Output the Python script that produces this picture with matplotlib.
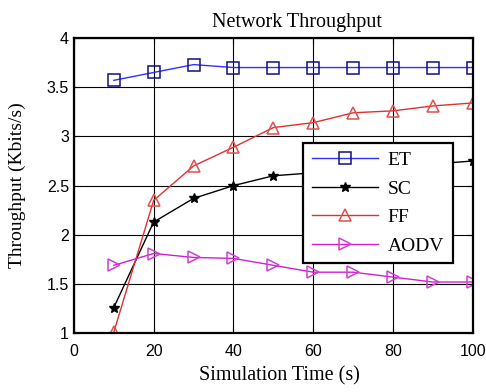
import matplotlib
matplotlib.use('Agg')
import matplotlib.pyplot as plt
import numpy as np

time_s = [10, 20, 30, 40, 50, 60, 70, 80, 90, 100]
et = [3.57, 3.65, 3.73, 3.70, 3.70, 3.70, 3.70, 3.70, 3.70, 3.70]
sc = [1.26, 2.13, 2.37, 2.50, 2.60, 2.63, 2.67, 2.70, 2.72, 2.75]
ff = [1.01, 2.35, 2.70, 2.89, 3.09, 3.14, 3.24, 3.26, 3.31, 3.34]
aodv = [1.69, 1.81, 1.77, 1.76, 1.69, 1.62, 1.62, 1.57, 1.52, 1.52]

fig = plt.figure(figsize=(4.86, 3.92), dpi=100)
ax = fig.add_axes([0.152, 0.150, 0.821, 0.753])

ax.plot(time_s, et, color='#3030ff', lw=1, marker='s', ms=8, mfc='none', mec='#101080', mew=1.1, label='ET')
ax.plot(time_s, sc, color='black', lw=1, marker='*', ms=7, mfc='black', mec='black', label='SC')
ax.plot(time_s, ff, color='#e03030', lw=1, marker='^', ms=9, mfc='none', mec='#e05050', mew=1.1, label='FF')
ax.plot(time_s, aodv, color='#d020d0', lw=1, marker='>', ms=9, mfc='none', mec='#d040d0', mew=1.1, label='AODV')

ax.set_xlim(0, 100)
ax.set_ylim(1, 4)
ax.set_xticks([0, 20, 40, 60, 80, 100])
ax.set_yticks([1, 1.5, 2, 2.5, 3, 3.5, 4])
ax.set_yticklabels(['1', '1.5', '2', '2.5', '3', '3.5', '4'])
ax.grid(True, color='black', lw=0.8)
ax.tick_params(direction='in', top=True, right=True, length=4)
ax.tick_params(axis='x', pad=8)
for lab in ax.get_xticklabels() + ax.get_yticklabels():
    lab.set_family(['Liberation Sans', 'DejaVu Sans'])
    lab.set_fontsize(11.5)
for s in ax.spines.values():
    s.set_linewidth(1.6)

serif = ['Liberation Serif', 'DejaVu Serif']
ax.set_title('Network Throughput', fontsize=14.5, family=serif, pad=8, x=0.56)
ax.set_xlabel('Simulation Time (s)', fontsize=14.5, family=serif, labelpad=5)
ax.xaxis.label.set_x(0.516)
ax.set_ylabel('Throughput (Kbits/s)', fontsize=14, family=serif, labelpad=15)

leg = ax.legend(loc='upper left', bbox_to_anchor=(0.574, 0.645), prop={'family': serif, 'size': 14},
                fancybox=False, framealpha=1, edgecolor='black', handlelength=3.4, borderpad=0.45,
                labelspacing=0.56, handletextpad=0.5, borderaxespad=0)
leg.get_frame().set_linewidth(1.6)

plt.savefig('out.png', dpi=100)
